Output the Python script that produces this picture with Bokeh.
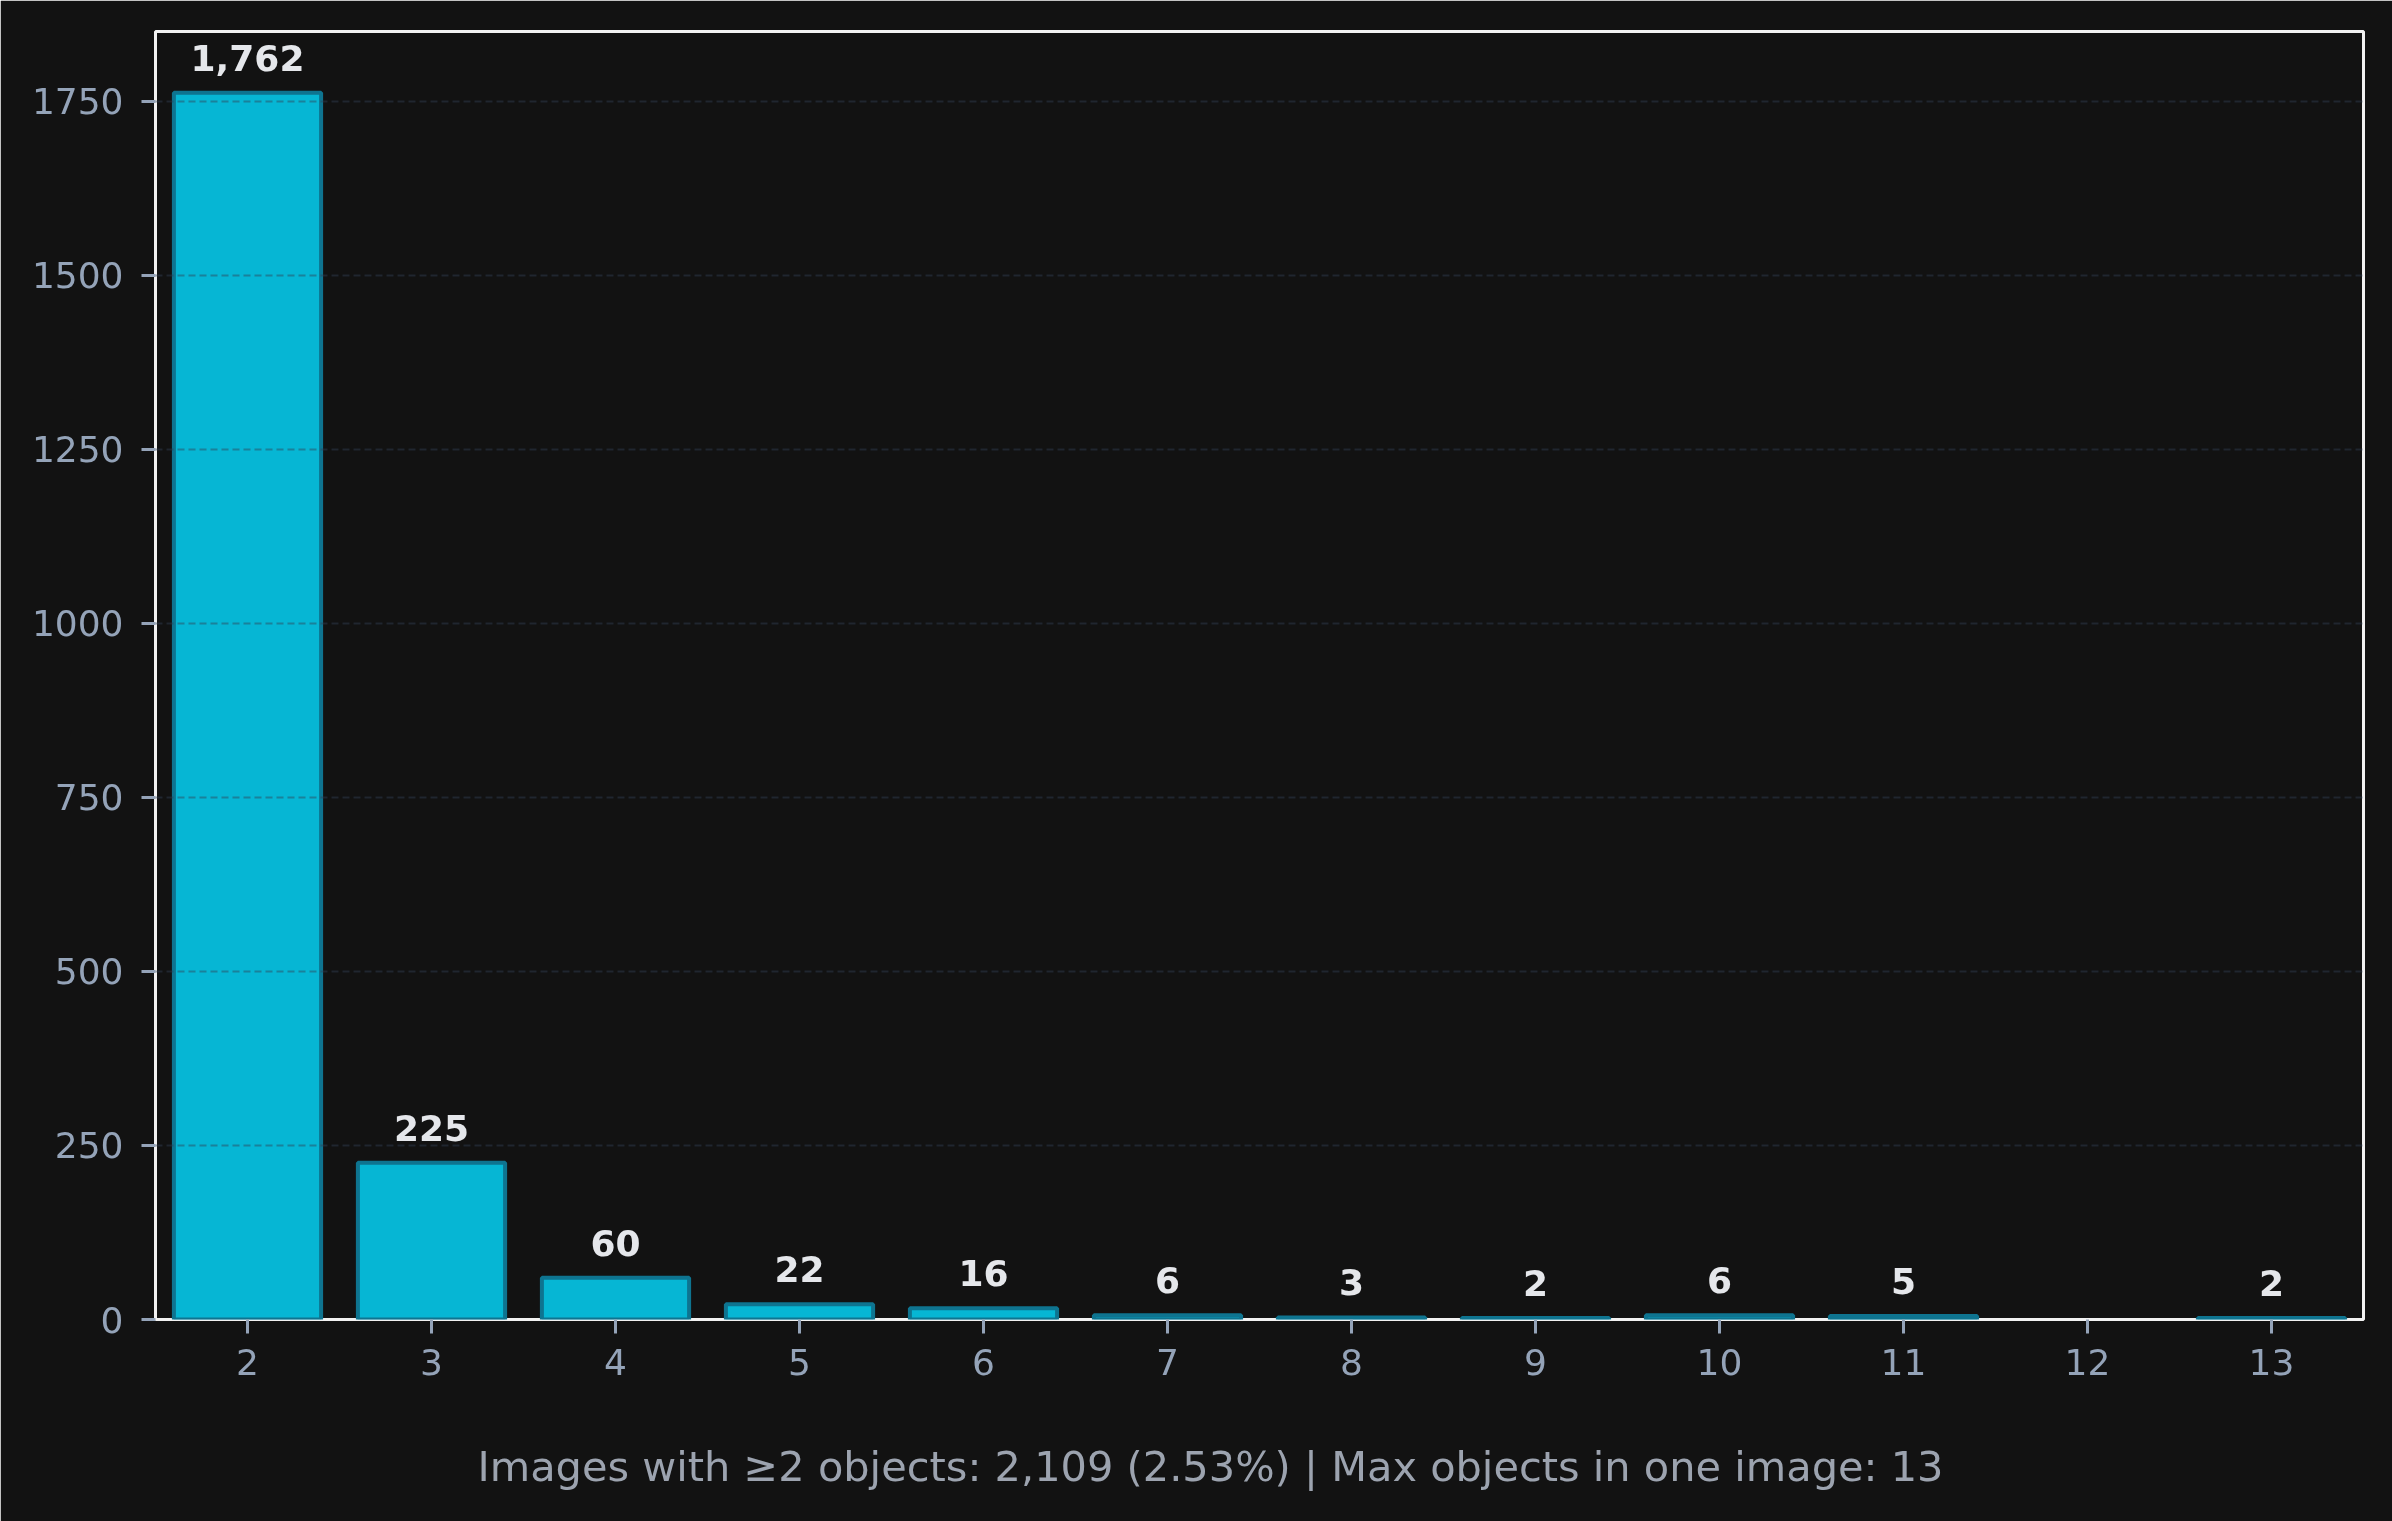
from bokeh.plotting import figure
from bokeh.models import ColumnDataSource, Range1d, FixedTicker, Title, NumeralTickFormatter
from bokeh.core.properties import value
from bokeh.embed import file_html
from bokeh.resources import INLINE

# ---- data ----
objects = [2, 3, 4, 5, 6, 7, 8, 9, 10, 11, 12, 13]
counts = [1762, 225, 60, 22, 16, 6, 3, 2, 6, 5, 0, 2]
y_ticks = [0, 250, 500, 750, 1000, 1250, 1500, 1750]
caption = "Images with \u22652 objects: 2,109 (2.53%) | Max objects in one image: 13"

BG = "#121212"
FONT = "DejaVu Sans"

nz = [(o, c) for o, c in zip(objects, counts) if c > 0]
src = ColumnDataSource(dict(
    x=[o for o, _ in nz],
    top=[c for _, c in nz],
    label=[f"{c:,}" for _, c in nz],
))

p = figure(width=2392, height=1521, output_backend="svg", toolbar_location=None,
           x_range=Range1d(1.5, 13.5), y_range=Range1d(0, 1850),
           min_border_left=155, min_border_right=29, min_border_top=31, min_border_bottom=202)
p.styles = {"position": "fixed", "top": "0px", "left": "0px"}
p.background_fill_color = BG
p.border_fill_color = BG
p.outline_line_color = "#f2f2f2"
p.outline_line_width = 3

p.vbar(x="x", top="top", width=0.8, source=src,
       fill_color="#06b6d4", line_color="#0e7490", line_width=4)

p.text(x="x", y="top", text="label", source=src, y_offset=-35,
       text_align="center", text_baseline="alphabetic",
       text_font=value(FONT), text_font_style="bold", text_font_size="36px",
       text_color="#e5e7eb")

for ax in (p.xaxis, p.yaxis):
    ax.axis_line_color = None
    ax.major_tick_line_color = "#94a3b8"
    ax.major_tick_line_width = 3
    ax.major_tick_out = 14
    ax.major_tick_in = 0
    ax.minor_tick_line_color = None
    ax.major_label_text_color = "#94a3b8"
    ax.major_label_text_font = FONT
    ax.major_label_text_font_size = "36px"

p.xaxis.ticker = FixedTicker(ticks=objects)
p.yaxis.ticker = FixedTicker(ticks=y_ticks)
p.yaxis.formatter = NumeralTickFormatter(format="0")
p.xaxis.major_label_standoff = 15
p.yaxis.major_label_standoff = 18

# blank spacer label to push the caption down
p.xaxis.axis_label = "\u00a0"
p.xaxis.axis_label_text_font = FONT
p.xaxis.axis_label_text_font_size = "36px"
p.xaxis.axis_label_standoff = 6

p.xgrid.grid_line_color = None
p.ygrid.grid_line_color = "#334155"
p.ygrid.grid_line_alpha = 0.45
p.ygrid.grid_line_width = 2
p.ygrid.grid_line_dash = "7 4"
p.ygrid.level = "overlay"

p.add_layout(Title(text=caption, align="left", offset=322, standoff=24,
                   text_font=FONT, text_font_style="normal",
                   text_font_size="41.5px", text_color="#9ca3af"), "below")

open("out.html", "w").write(file_html(p, INLINE))
